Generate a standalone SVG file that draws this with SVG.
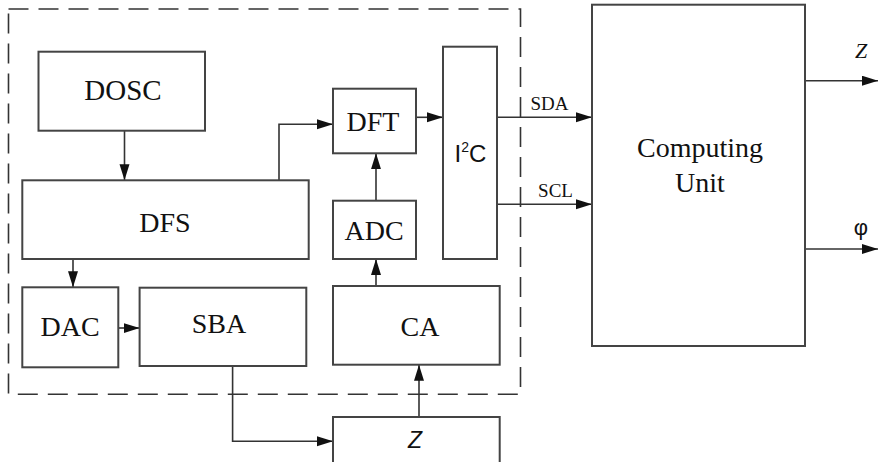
<svg xmlns="http://www.w3.org/2000/svg" width="878" height="462" viewBox="0 0 878 462">
<style>
.box{fill:#fff;stroke:#444;stroke-width:2}
.ln{fill:none;stroke:#333;stroke-width:1.6}
text{fill:#111;text-anchor:middle}
</style>
<defs>
<marker id="ah" markerUnits="userSpaceOnUse" markerWidth="17" markerHeight="11" refX="16" refY="5" orient="auto">
<path d="M0,0 L16,5 L0,10 z" fill="#111"/>
</marker>
</defs>
<rect width="878" height="462" fill="#fff"/>
<rect x="8.5" y="9" width="512" height="385.3" fill="none" stroke="#333" stroke-width="1.6" stroke-dasharray="20 10"/>
<g id="connectors" class="ln">
<path d="M124.5,130.7 V180.3" marker-end="url(#ah)"/>
<path d="M279,180.3 V124.3 H333" marker-end="url(#ah)"/>
<path d="M416,117.3 H443" marker-end="url(#ah)"/>
<path d="M376,200.7 V153.3" marker-end="url(#ah)"/>
<path d="M376,286 V259" marker-end="url(#ah)"/>
<path d="M73,259 V287.3" marker-end="url(#ah)"/>
<path d="M118.3,328 H139.6" marker-end="url(#ah)"/>
<path d="M232.6,366 V441.3 H333" marker-end="url(#ah)"/>
<path d="M419,417 V364.7" marker-end="url(#ah)"/>
<path d="M497,117.3 H592" marker-end="url(#ah)"/>
<path d="M497,204.3 H592" marker-end="url(#ah)"/>
<path d="M805,80.7 H878" marker-end="url(#ah)"/>
<path d="M805,249 H878" marker-end="url(#ah)"/>
</g>
<g font-family="'Liberation Serif', 'Times New Roman', serif" font-size="28">
<g id="DOSC"><rect class="box" x="38.5" y="51.7" width="166.5" height="79"/><text x="123" y="100" font-size="29">DOSC</text></g>
<g id="DFS"><rect class="box" x="22.3" y="180.3" width="286.4" height="78.7"/><text x="165" y="231.7">DFS</text></g>
<g id="DFT"><rect class="box" x="333" y="88.7" width="83" height="64.6"/><text x="373" y="130.7">DFT</text></g>
<g id="I2C"><rect class="box" x="443" y="46.7" width="54" height="212.3"/><text font-family="'Liberation Sans', Arial, sans-serif" x="470.5" y="161.7" font-size="24">I<tspan font-size="14" dy="-10">2</tspan><tspan dy="10">C</tspan></text></g>
<g id="ADC"><rect class="box" x="333" y="200.7" width="83" height="58.3"/><text x="374" y="240">ADC</text></g>
<g id="DAC"><rect class="box" x="22.3" y="287.3" width="96" height="80"/><text x="70" y="335.7">DAC</text></g>
<g id="SBA"><rect class="box" x="139.6" y="287.7" width="166.7" height="78.3"/><text x="219" y="333.3">SBA</text></g>
<g id="CA"><rect class="box" x="333" y="286" width="166.7" height="78.7"/><text x="420" y="335.7">CA</text></g>
<g id="Z"><rect class="box" x="333" y="417" width="166.7" height="60"/><text font-family="'Liberation Sans', Arial, sans-serif" x="415" y="448.3" font-size="23" font-style="italic">Z</text></g>
<g id="ComputingUnit"><rect class="box" x="592" y="4.7" width="213" height="341.3"/><text x="700" y="157">Computing</text><text x="700" y="192">Unit</text></g>
<text x="549.5" y="110" font-size="19">SDA</text>
<text x="555.5" y="197" font-size="19">SCL</text>
<text x="861" y="58.3" font-size="22" font-style="italic">Z</text>
<text font-family="'Liberation Sans', Arial, sans-serif" x="861" y="235" font-size="22">φ</text>
</g>
</svg>
